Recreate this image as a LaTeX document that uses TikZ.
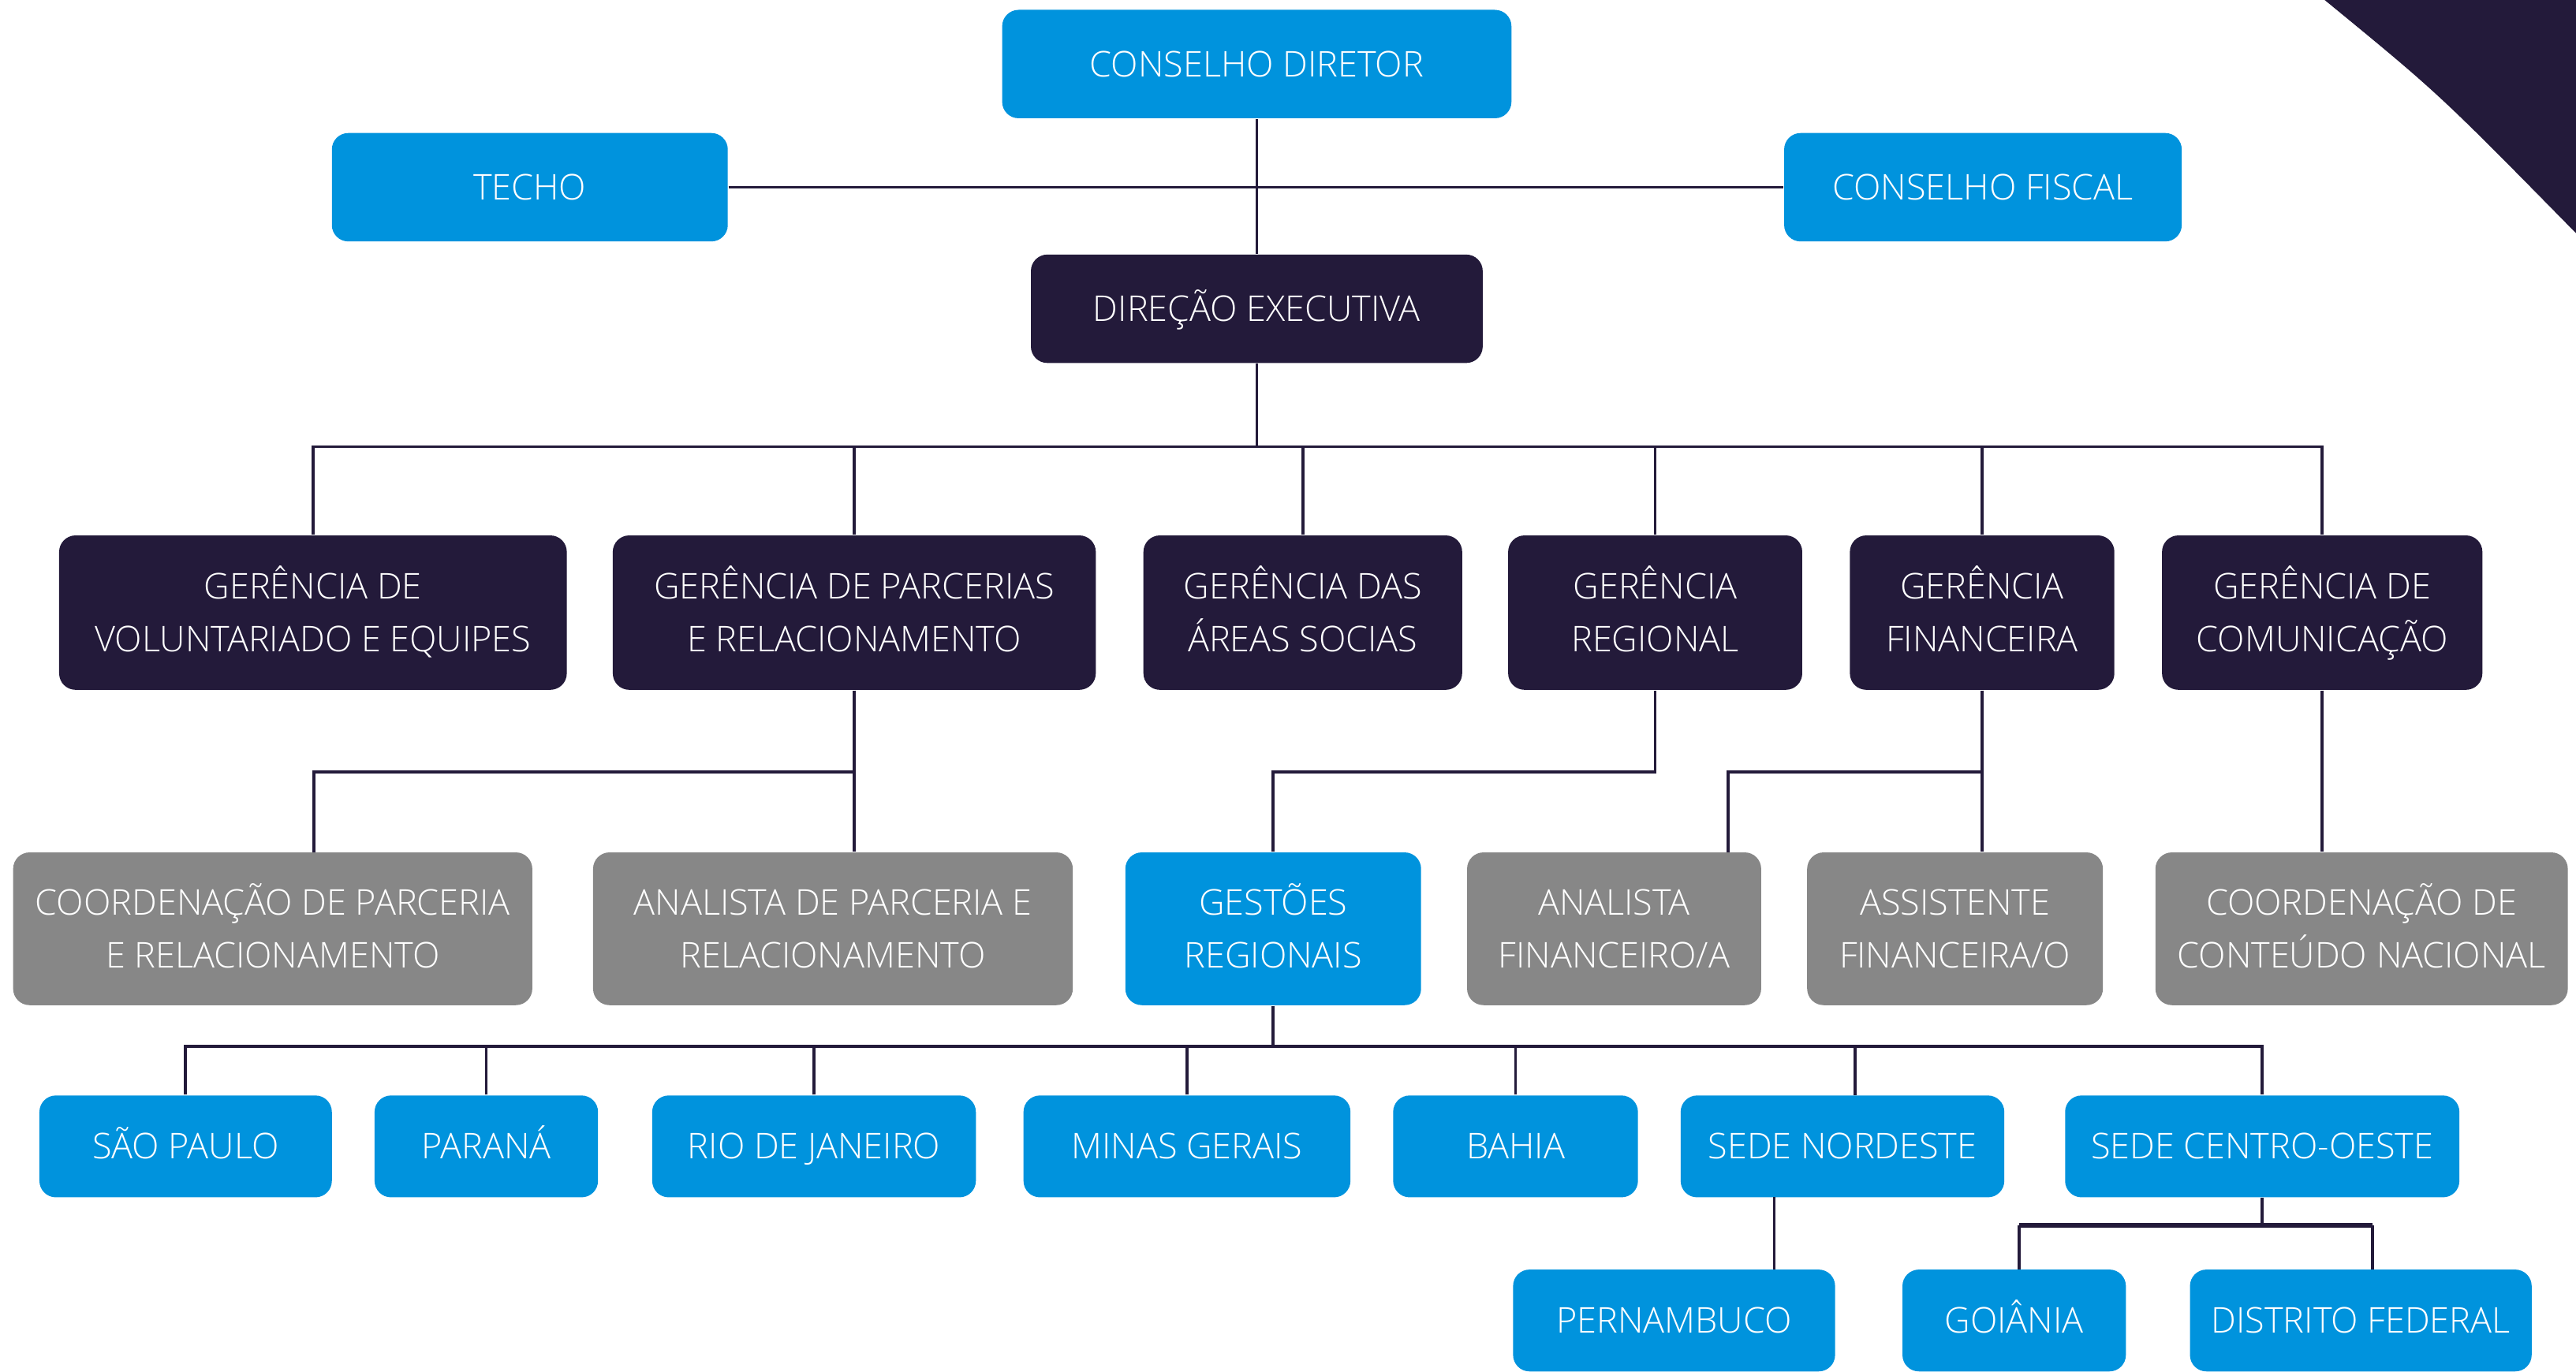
\documentclass[tikz,border=0pt]{standalone}
\usepackage{fontspec}
\setmainfont{Open Sans}[UprightFont={* Light}]
\newcommand\boxfont{\fontsize{10.8}{16}\selectfont}
\newcommand\boxline[1]{\vphantom{X}\smash{#1}}
\definecolor{tblue}{RGB}{0,147,221}
\definecolor{tdark}{RGB}{35,26,58}
\definecolor{tgray}{RGB}{135,135,135}
\begin{document}
\begin{tikzpicture}[x=0.5pt,y=-0.5pt,
  box/.style={rounded corners=5pt, align=center, text=white, inner sep=0pt, font=\boxfont},
  bluebox/.style={box, fill=tblue},
  darkbox/.style={box, fill=tdark},
  graybox/.style={box, fill=tgray},
  conn/.style={draw=tdark, line width=0.9pt},
  thickconn/.style={draw=tdark, line width=1.5pt}]
\fill[white] (0,0) rectangle (1568,835);
\useasboundingbox (0,0) rectangle (1568,835);
% corner decoration
\fill[tdark] (1415,0) .. controls (1484.5,57) .. (1568,142) -- (1568,0) -- cycle;
% top
\node[bluebox, minimum width=155pt, minimum height=33pt] (cd) at (765,39) {\boxline{CONSELHO DIRETOR}};
\node[bluebox, minimum width=120.5pt, minimum height=33pt] (techo) at (322.5,114) {\boxline{TECHO}};
\node[bluebox, minimum width=121pt, minimum height=33pt] (cf) at (1207,114) {\boxline{CONSELHO FISCAL}};
\node[darkbox, minimum width=137.5pt, minimum height=33pt] (de) at (765,188) {\boxline{DIREÇÃO EXECUTIVA}};
% row 2
\node[darkbox, minimum width=154.5pt, minimum height=47pt] (gve) at (190.5,373) {\boxline{GERÊNCIA DE}\\\boxline{VOLUNTARIADO E EQUIPES}};
\node[darkbox, minimum width=147pt, minimum height=47pt] (gpr) at (520,373) {\boxline{GERÊNCIA DE PARCERIAS}\\\boxline{E RELACIONAMENTO}};
\node[darkbox, minimum width=97pt, minimum height=47pt] (gas) at (793,373) {\boxline{GERÊNCIA DAS}\\\boxline{ÁREAS SOCIAS}};
\node[darkbox, minimum width=89.5pt, minimum height=47pt] (gr) at (1007.5,373) {\boxline{GERÊNCIA}\\\boxline{REGIONAL}};
\node[darkbox, minimum width=80.5pt, minimum height=47pt] (gf) at (1206.5,373) {\boxline{GERÊNCIA}\\\boxline{FINANCEIRA}};
\node[darkbox, minimum width=97.5pt, minimum height=47pt] (gc) at (1413.5,373) {\boxline{GERÊNCIA DE}\\\boxline{COMUNICAÇÃO}};
% row 3
\node[graybox, minimum width=158pt, minimum height=46.5pt] (cpr) at (166,565.5) {\boxline{COORDENAÇÃO DE PARCERIA}\\\boxline{E RELACIONAMENTO}};
\node[graybox, minimum width=146pt, minimum height=46.5pt] (apr) at (507,565.5) {\boxline{ANALISTA DE PARCERIA E}\\\boxline{RELACIONAMENTO}};
\node[bluebox, minimum width=90pt, minimum height=46.5pt] (gest) at (775,565.5) {\boxline{GESTÕES}\\\boxline{REGIONAIS}};
\node[graybox, minimum width=89.5pt, minimum height=46.5pt] (af) at (982.5,565.5) {\boxline{ANALISTA}\\\boxline{FINANCEIRO/A}};
\node[graybox, minimum width=90pt, minimum height=46.5pt] (as) at (1190,565.5) {\boxline{ASSISTENTE}\\\boxline{FINANCEIRA/O}};
\node[graybox, minimum width=125.5pt, minimum height=46.5pt] (ccn) at (1437.5,565.5) {\boxline{COORDENAÇÃO DE}\\\boxline{CONTEÚDO NACIONAL}};
% row 4
\node[bluebox, minimum width=89pt, minimum height=31pt] (sp) at (113,698) {\boxline{SÃO PAULO}};
\node[bluebox, minimum width=68pt, minimum height=31pt] (pr) at (296,698) {\boxline{PARANÁ}};
\node[bluebox, minimum width=98.5pt, minimum height=31pt] (rj) at (495.5,698) {\boxline{RIO DE JANEIRO}};
\node[bluebox, minimum width=99.5pt, minimum height=31pt] (mg) at (722.5,698) {\boxline{MINAS GERAIS}};
\node[bluebox, minimum width=74.5pt, minimum height=31pt] (ba) at (922.5,698) {\boxline{BAHIA}};
\node[bluebox, minimum width=98.5pt, minimum height=31pt] (sn) at (1121.5,698) {\boxline{SEDE NORDESTE}};
\node[bluebox, minimum width=120pt, minimum height=31pt] (sco) at (1377,698) {\boxline{SEDE CENTRO-OESTE}};
% row 5
\node[bluebox, minimum width=98pt, minimum height=31pt] (pe) at (1019,804) {\boxline{PERNAMBUCO}};
\node[bluebox, minimum width=68pt, minimum height=31pt] (go) at (1226,804) {\boxline{GOIÂNIA}};
\node[bluebox, minimum width=104pt, minimum height=31pt] (df) at (1437,804) {\boxline{DISTRITO FEDERAL}};
% junction coordinates
\coordinate (b1) at (765,272);
\coordinate (j3) at (0,470);
\coordinate (b4) at (0,637);
\coordinate (b5) at (0,746);
\coordinate (cprin) at (191,519);
\coordinate (afin) at (1052,519);
\coordinate (snin) at (1129,667);
\coordinate (snout) at (1080,729);
\coordinate (pein) at (1080,773);
\coordinate (goin) at (1229,773);
\coordinate (dfin) at (1444,773);
% connectors top
\draw[conn] (techo.east) -- (cf.west);
\draw[conn] (cd.south) -- (de.north);
\draw[conn] (de.south) -- (b1);
\draw[conn] (gve.north) -- (gve.north |- b1) -- (gc.north |- b1) -- (gc.north);
\foreach \n in {gpr,gas,gr,gf} \draw[conn] (\n.north) -- (\n.north |- b1);
% row 3 connectors
\draw[conn] (gpr.south) -- (gpr.south |- apr.north);
\draw[conn] (gpr.south |- j3) -| (cprin);
\draw[conn] (gr.south) -- (gr.south |- j3) -| (gest.north);
\draw[conn] (gf.south) -- (gf.south |- as.north);
\draw[conn] (gf.south |- j3) -| (afin);
\draw[conn] (gc.south) -- (gc.south |- ccn.north);
% row 4 connectors
\draw[conn] (gest.south) -- (gest.south |- b4);
\draw[conn] (sp.north) -- (sp.north |- b4) -- (sco.north |- b4) -- (sco.north);
\foreach \n in {pr,rj,mg,ba} \draw[conn] (\n.north) -- (\n.north |- b4);
\draw[conn] (snin) -- (snin |- b4);
% row 5 connectors
\draw[conn] (snout) -- (pein);
\draw[conn] (sco.south) -- (sco.south |- b5);
\draw[thickconn] (goin |- b5) -- (dfin |- b5);
\draw[conn] (goin |- b5) -- (goin);
\draw[conn] (dfin |- b5) -- (dfin);
\end{tikzpicture}
\end{document}
